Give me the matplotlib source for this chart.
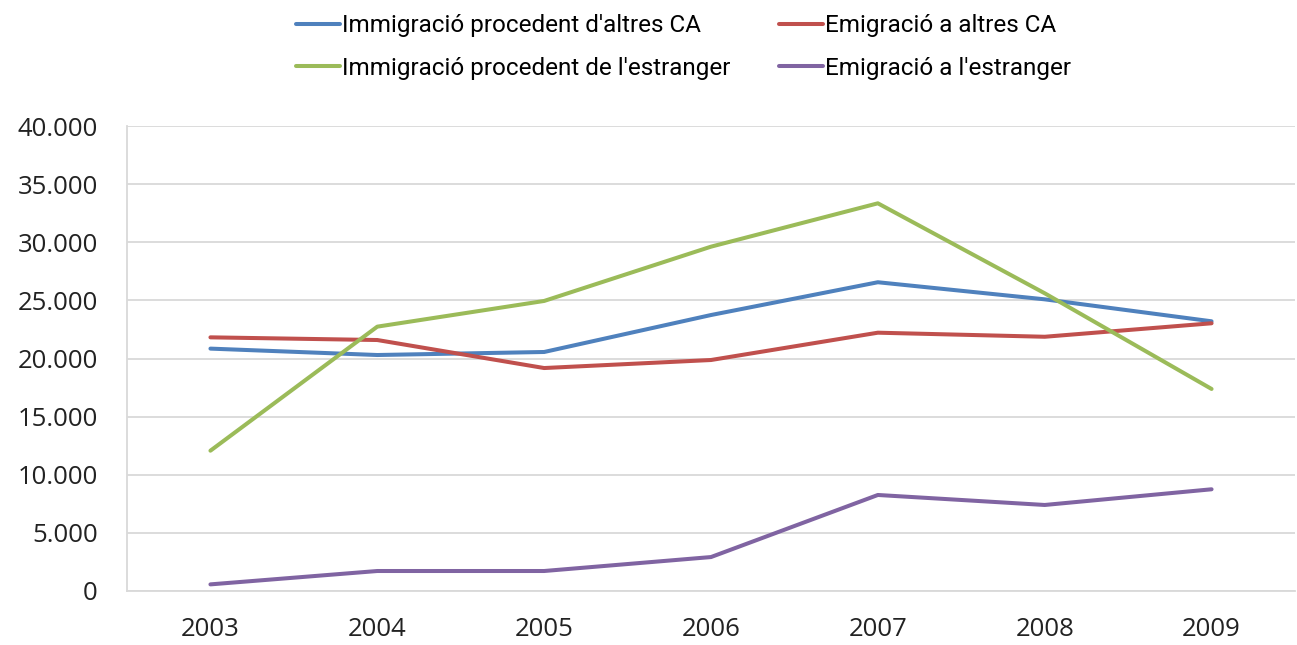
import matplotlib.pyplot as plt
from matplotlib.ticker import FuncFormatter

years = ["2003", "2004", "2005", "2006", "2007", "2008", "2009"]
immig_ca = [20850, 20300, 20560, 23740, 26560, 25090, 23200]
emig_ca = [21820, 21590, 19180, 19870, 22220, 21870, 23030]
immig_ext = [12070, 22740, 24950, 29620, 33350, 25610, 17380]
emig_ext = [570, 1720, 1720, 2920, 8260, 7400, 8750]

labels = ["Immigració procedent d'altres CA", "Emigració a altres CA",
          "Immigració procedent de l'estranger", "Emigració a l'estranger"]
colors = ["#4F81BD", "#C0504D", "#9BBB59", "#8064A2"]

fig = plt.figure(figsize=(12.97, 6.45), dpi=100)
ax = fig.add_axes([127/1297, 1 - 591/645, 1168/1297, 465/645])

x = range(len(years))
lines = []
for vals, lab, col in zip([immig_ca, emig_ca, immig_ext, emig_ext], labels, colors):
    l, = ax.plot(x, vals, color=col, lw=2.9, label=lab, solid_capstyle="round")
    lines.append(l)

ax.set_xlim(-0.5, len(years) - 0.5)
ax.set_ylim(0, 40000)
ax.set_yticks(range(0, 40001, 5000))
ax.yaxis.set_major_formatter(FuncFormatter(lambda v, p: f"{int(v):,}".replace(",", ".")))
ax.set_xticks(list(x))
ax.set_xticklabels(years)
ax.grid(axis="y", color="#D9D9D9", lw=1.3)
ax.set_axisbelow(True)
for s in ["top", "right"]:
    ax.spines[s].set_visible(False)
for s in ["left", "bottom"]:
    ax.spines[s].set_color("#D9D9D9")
    ax.spines[s].set_linewidth(1.3)
ax.tick_params(length=0, labelsize=18.5, colors="#222222")
ax.tick_params(axis="y", pad=21)
ax.tick_params(axis="x", pad=19)
for t in ax.get_xticklabels() + ax.get_yticklabels():
    t.set_family(["Open Sans", "DejaVu Sans"])

# legend fills column-first, so reorder to get row-wise layout
order = [0, 2, 1, 3]
fig.legend(handles=[lines[i] for i in order], loc="upper center",
           bbox_to_anchor=(0.527, 1.012), ncol=2,
           frameon=False, handlelength=1.8, columnspacing=2.0, labelspacing=0.8,
           handletextpad=0.1,
           prop={"family": ["Roboto", "DejaVu Sans"], "size": 17.5})

fig.savefig("out.png", dpi=100)
